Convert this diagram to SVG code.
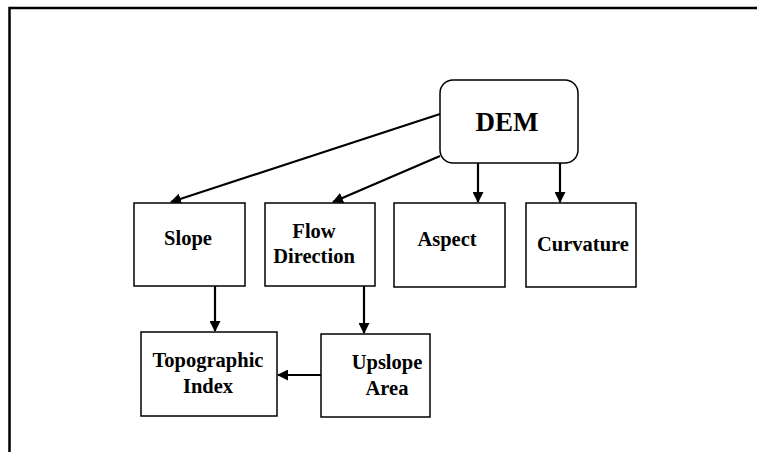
<svg xmlns="http://www.w3.org/2000/svg" width="757" height="452" viewBox="0 0 757 452">
  <style>
    .box { fill: #ffffff; stroke: #000000; stroke-width: 1.5; }
    .lbl { font-family: "Liberation Serif", "Times New Roman", serif; font-weight: bold; font-size: 20.5px; text-anchor: middle; fill: #000000; }
    .big { font-size: 27px; }
    .edge { stroke: #000000; stroke-width: 2.2; fill: none; marker-end: url(#head); }
  </style>
  <defs>
    <marker id="head" markerWidth="11" markerHeight="11" refX="10" refY="5.5" orient="auto" markerUnits="userSpaceOnUse">
      <path d="M0,0 L11,5.5 L0,11 Z" fill="#000000"/>
    </marker>
  </defs>

  <rect width="757" height="452" fill="#ffffff"/>
  <!-- frame -->
  <rect x="9.5" y="8" width="760" height="470" fill="none" stroke="#000000" stroke-width="2.5"/>

  <g id="connectors">
    <line class="edge" x1="440" y1="114" x2="171" y2="202"/>
    <line class="edge" x1="440" y1="156" x2="333" y2="202"/>
    <line class="edge" x1="478" y1="163" x2="478" y2="202"/>
    <line class="edge" x1="560" y1="163" x2="560" y2="202"/>
    <line class="edge" x1="215" y1="286" x2="215" y2="331"/>
    <line class="edge" x1="364" y1="286" x2="364" y2="333"/>
    <line class="edge" x1="321" y1="375" x2="278" y2="375"/>
  </g>

  <g id="dem">
    <rect class="box" x="440" y="80" width="138" height="83" rx="13" ry="13"/>
    <text class="lbl big" x="507" y="131">DEM</text>
  </g>
  <g id="slope">
    <rect class="box" x="134" y="203" width="111" height="83"/>
    <text class="lbl" x="188" y="245">Slope</text>
  </g>
  <g id="flow-direction">
    <rect class="box" x="265" y="203" width="110" height="83"/>
    <text class="lbl" x="314" y="238">Flow</text>
    <text class="lbl" x="314" y="263">Direction</text>
  </g>
  <g id="aspect">
    <rect class="box" x="394" y="203" width="111" height="84"/>
    <text class="lbl" x="447" y="246">Aspect</text>
  </g>
  <g id="curvature">
    <rect class="box" x="526" y="203" width="110" height="84"/>
    <text class="lbl" x="583" y="251">Curvature</text>
  </g>
  <g id="topographic-index">
    <rect class="box" x="141" y="332" width="136" height="84"/>
    <text class="lbl" x="208" y="367">Topographic</text>
    <text class="lbl" x="208" y="393">Index</text>
  </g>
  <g id="upslope-area">
    <rect class="box" x="321" y="334" width="109" height="83"/>
    <text class="lbl" x="387" y="369">Upslope</text>
    <text class="lbl" x="387" y="395">Area</text>
  </g>
</svg>
